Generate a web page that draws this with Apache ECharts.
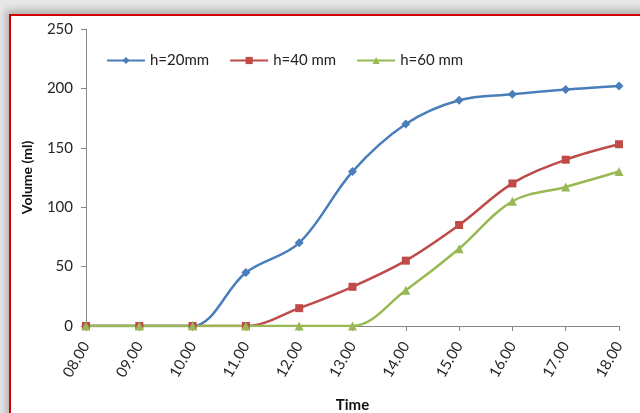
<!DOCTYPE html>
<html>
<head>
<meta charset="utf-8">
<script src="https://cdn.jsdelivr.net/npm/echarts@6/dist/echarts.min.js"></script>
<style>
    html, body { margin: 0; padding: 0; background: #e8e8e8; }
    #frame {
        position: absolute; left: 9px; top: 14px; width: 700px; height: 500px;
        background: #fff; border: 2px solid #d40000; box-sizing: border-box;
        box-shadow: -3px -4px 8px rgba(0,0,0,0.25);
    }
    #main { position: absolute; left: 0; top: 0; width: 640px; height: 413px; }
</style>
</head>
<body>
<div id="frame"></div>
<div id="main"></div>
<script>
    // times (x axis)
    var times = ['08.00', '09.00', '10.00', '11.00', '12.00', '13.00', '14.00', '15.00', '16.00', '17.00', '18.00'];
    // volume readings (ml)
    var h20 = [0, 0, 0, 45, 70, 130, 170, 190, 195, 199, 202];
    var h40 = [0, 0, 0, 0, 15, 33, 55, 85, 120, 140, 153];
    var h60 = [0, 0, 0, 0, 0, 0, 30, 65, 105, 117, 130];
    var names = ['h=20mm', 'h=40 mm', 'h=60 mm'];
    var colors = ['#4a7ebb', '#be4b48', '#98b954'];

    var chart = echarts.init(document.getElementById('main'));
    var font = 'Lato, "Liberation Sans", sans-serif';

    var option = {
        backgroundColor: 'transparent',
        color: colors,
        textStyle: { fontFamily: font },
        legend: {
            left: 101,
            top: 48,
            itemWidth: 38,
            itemHeight: 9,
            itemGap: 20,
            textStyle: { fontSize: 15, color: '#222', fontFamily: font },
            data: names
        },
        grid: { left: 86, right: 21, top: 29, bottom: 87, outerBoundsMode: 'none', containLabel: false },
        xAxis: {
            type: 'category',
            boundaryGap: false,
            data: times,
            name: 'Time',
            nameLocation: 'middle',
            nameGap: 72,
            nameTextStyle: { fontSize: 15, fontWeight: 'bold', color: '#111', fontFamily: font },
            axisLine: { lineStyle: { color: '#868686', width: 1 } },
            axisTick: { show: true, alignWithLabel: true, length: 5, lineStyle: { color: '#868686' } },
            axisLabel: { rotate: 60, fontSize: 15, color: '#262626', margin: 17, fontFamily: font },
            splitLine: { show: false }
        },
        yAxis: {
            type: 'value',
            min: 0,
            max: 250,
            interval: 50,
            name: 'Volume (ml)',
            nameLocation: 'middle',
            nameRotate: 90,
            nameGap: 52,
            nameTextStyle: { fontSize: 14, fontWeight: 'bold', color: '#111', fontFamily: font },
            axisLine: { show: true, lineStyle: { color: '#868686', width: 1 } },
            axisTick: { show: true, length: 5, lineStyle: { color: '#868686' } },
            axisLabel: { fontSize: 15, color: '#262626', margin: 13, fontFamily: font },
            splitLine: { show: false }
        },
        series: [
            {
                name: names[0], type: 'line', data: h20, smooth: 0.35,
                symbol: 'diamond', symbolSize: 9,
                lineStyle: { width: 2.5 }
            },
            {
                name: names[1], type: 'line', data: h40, smooth: 0.35,
                symbol: 'rect', symbolSize: 8,
                lineStyle: { width: 2.5 }
            },
            {
                name: names[2], type: 'line', data: h60, smooth: 0.35,
                symbol: 'triangle', symbolSize: 9,
                lineStyle: { width: 2.5 }
            }
        ]
    };

    chart.setOption(option);
    window.addEventListener("resize", function () {
        chart.resize();
    });
</script>
</body>
</html>
